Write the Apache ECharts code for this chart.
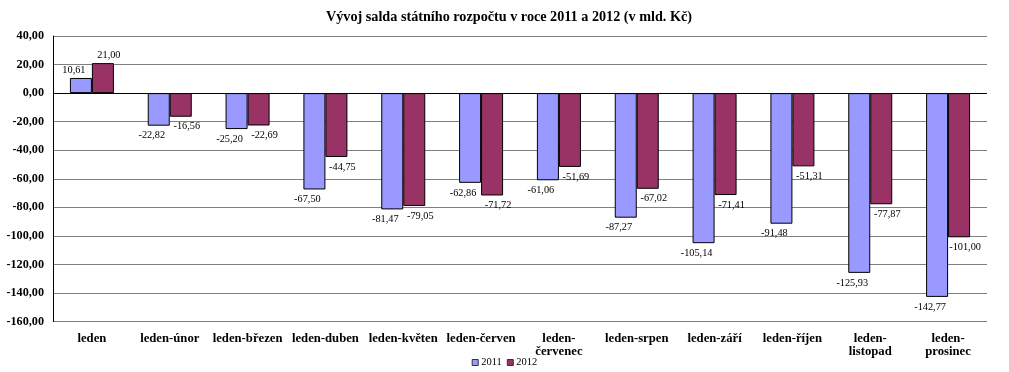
<!DOCTYPE html>
<html><head><meta charset="utf-8">
<script src="https://cdn.jsdelivr.net/npm/echarts@6/dist/echarts.min.js"></script>
<style>html,body{margin:0;padding:0;background:#fff}#c{width:1009px;height:372px}</style>
</head><body><div id="c"></div>
<script>
var categories = ['leden','leden-únor','leden-březen','leden-duben','leden-květen','leden-červen','leden-červenec','leden-srpen','leden-září','leden-říjen','leden-listopad','leden-prosinec'];
var values2011 = [10.61,-22.82,-25.20,-67.50,-81.47,-62.86,-61.06,-87.27,-105.14,-91.48,-125.93,-142.77];
var values2012 = [21.00,-16.56,-22.69,-44.75,-79.05,-71.72,-51.69,-67.02,-71.41,-51.31,-77.87,-101.00];
var seriesNames = ['2011','2012'];
var yTicks = {min:-160, max:40, interval:20};

function fmt(v){ return v.toFixed(2).replace('.', ','); }
function items(arr, dx){
  return arr.map(function(v){
    return {value:v, label:{position: v>=0?'top':'bottom', distance: v>=0?3:5, offset:[dx,0]}};
  });
}
var font = '"Liberation Serif","Times New Roman",serif';
var chart = echarts.init(document.getElementById('c'), null, {renderer:'canvas'});
chart.setOption({
  animation:false,
  backgroundColor:'#fff',
  title:{text:'Vývoj salda státního rozpočtu v roce 2011 a 2012 (v mld. Kč)', left:504, textAlign:'center', top:5,
    textStyle:{fontFamily:font, fontSize:14.2, fontWeight:'bold', color:'#000'}},
  legend:{top:352, left:'center', itemWidth:6, itemHeight:6, itemGap:5,
    textStyle:{fontFamily:font, fontSize:10.5, color:'#000', padding:[0,0,0,-2]},
    data:seriesNames.map(function(n){return {name:n, icon:'rect', itemStyle:{borderColor:'#333', borderWidth:1}};})},
  grid:{left:53, right:22, top:36, bottom:50.5, containLabel:false},
  xAxis:{type:'category', data:categories,
    axisLine:{show:false, onZero:false}, axisTick:{show:false},
    axisLabel:{fontFamily:font, fontSize:12.7, fontWeight:'bold', color:'#000', margin:10, lineHeight:13.5, interval:0,
      formatter:function(s){ return s.length>12 ? s.replace('-', '-\n') : s; }}},
  yAxis:{type:'value', min:yTicks.min, max:yTicks.max, interval:yTicks.interval,
    axisLine:{show:true, lineStyle:{color:'#000', width:1}}, axisTick:{show:false},
    splitLine:{lineStyle:{color:'#808080', width:1}},
    axisLabel:{fontFamily:font, fontSize:12.2, fontWeight:'bold', color:'#000', margin:9, formatter:function(v){return fmt(v);}}},
  series:[
    {name:seriesNames[0], type:'bar', data:items(values2011,-7), barWidth:22, barGap:'0%',
      itemStyle:{color:'#9999FF', borderColor:'#000', borderWidth:1},
      label:{show:true, fontFamily:font, fontSize:10.3, color:'#000', formatter:function(p){return fmt(p.value);}},
      markLine:{silent:true, symbol:'none', label:{show:false}, lineStyle:{color:'#000', width:1, type:'solid'}, data:[{yAxis:0}], z:10}},
    {name:seriesNames[1], type:'bar', data:items(values2012,6), barWidth:22, barGap:'0%',
      itemStyle:{color:'#993366', borderColor:'#000', borderWidth:1},
      label:{show:true, fontFamily:font, fontSize:10.3, color:'#000', formatter:function(p){return fmt(p.value);}}}
  ]
});
</script></body></html>
